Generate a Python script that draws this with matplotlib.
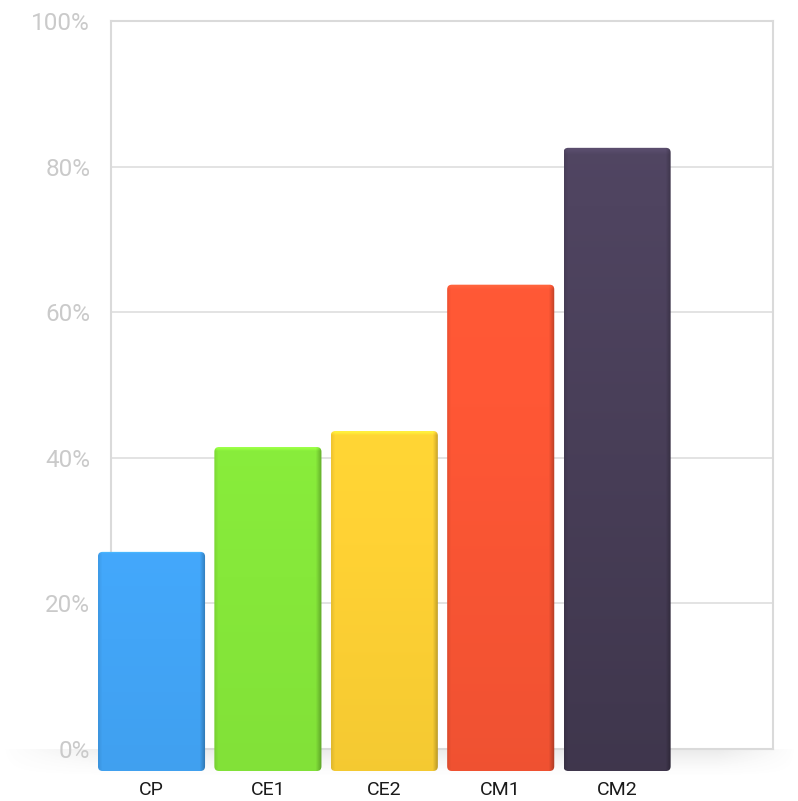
import numpy as np
import matplotlib.pyplot as plt
from matplotlib.patches import FancyBboxPatch
from matplotlib.colors import to_rgb

# data
categories = ["CP", "CE1", "CE2", "CM1", "CM2"]
values = [30.1, 44.5, 46.7, 66.8, 85.6]
bar_colors = ["#42a5f7", "#86e83a", "#ffd234", "#ff5735", "#4f4460"]
y_ticks = [0, 20, 40, 60, 80, 100]
y_ticklabels = [f"{v}%" for v in y_ticks]

W, H = 798, 801


def px_rect(left, top, right, bottom):
    # pixel box (image coords) -> figure fraction
    return [left / W, 1 - bottom / H, (right - left) / W, (bottom - top) / H]


def shaded_bar(ax, x, h, width, color, grad=0.06):
    base = np.array(to_rgb(color))
    ny, nx = 120, 60
    v = np.linspace(0, 1, ny)[:, None]
    u = np.linspace(0, 1, nx)[None, :]
    fac = 1.02 - grad * v + 0 * u
    fac = fac - 0.25 * np.clip((u - 0.95) / 0.05, 0, 1)   # darker side edge
    fac = fac - 0.08 * np.clip((0.03 - u) / 0.03, 0, 1)
    img = np.clip(base[None, None, :] * fac[:, :, None], 0, 1)
    # light rim at the top
    rim = max(1, int(ny * 0.5 / max(h, 1)))
    img[:rim] = np.clip(img[:rim] * 1.12, 0, 1)

    patch = FancyBboxPatch((x - width / 2, 0), width, h,
                           boxstyle="round,pad=0,rounding_size=0.04",
                           mutation_aspect=16, facecolor="none",
                           edgecolor="none", zorder=2)
    ax.add_patch(patch)
    im = ax.imshow(img, extent=(x - width / 2, x + width / 2, 0, h),
                   aspect="auto", origin="upper", zorder=2,
                   interpolation="bilinear")
    im.set_clip_path(patch)


fig = plt.figure(figsize=(W / 100, H / 100), dpi=100)

# floor shadow
ax_floor = fig.add_axes(px_rect(0, 749, 798, 778), zorder=0)
ny, nx = 40, 200
fy = np.linspace(0, 1, ny)[:, None]
fx = np.linspace(0, 1, nx)[None, :]
alpha = 0.16 * (1 - fy) ** 1.5 * np.clip(fx * 6, 0, 1) * np.clip((1 - fx) * 10, 0, 1)
shadow = np.zeros((ny, nx, 4))
shadow[..., :3] = 0.45
shadow[..., 3] = alpha
ax_floor.imshow(shadow, aspect="auto", extent=(0, 1, 0, 1), interpolation="bilinear")
ax_floor.axis("off")

# back wall with grid
ax = fig.add_axes(px_rect(111, 21, 773, 749), zorder=1)
ax.set_xlim(0, 1)
ax.set_ylim(0, 100)
ax.set_xticks([])
ax.set_yticks(y_ticks)
ax.set_yticklabels(y_ticklabels, fontsize=17.5, color="#cacaca", family="Roboto")
ax.tick_params(axis="y", length=0, pad=15)
ax.grid(axis="y", color="#e0e0e0", linewidth=1.3)
for s in ax.spines.values():
    s.set_color("#dadada")
    s.set_linewidth(1.5)

# front layer with the columns
ax_bar = fig.add_axes(px_rect(93.3, 43, 675.3, 771), zorder=2)
ax_bar.patch.set_visible(False)
for s in ax_bar.spines.values():
    s.set_visible(False)
xs = np.arange(len(categories))
grads = [0.05, 0.05, 0.06, 0.08, 0.22]
for x, val, c, g in zip(xs, values, bar_colors, grads):
    shaded_bar(ax_bar, x, val, 0.92, c, g)
ax_bar.set_xlim(-0.5, len(categories) - 0.5)
ax_bar.set_ylim(0, 100)
ax_bar.set_yticks([])
ax_bar.set_xticks(xs)
ax_bar.set_xticklabels(categories, fontsize=14, color="#1a1a1a", family="Roboto")
ax_bar.tick_params(axis="x", length=0, pad=7)

plt.savefig("out.png", dpi=100)
